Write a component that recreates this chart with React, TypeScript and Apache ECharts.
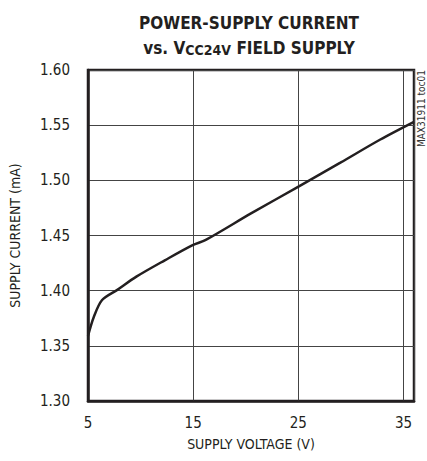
import React, { useEffect, useRef } from "react";
import * as echarts from "echarts";

const voltage = [5, 5.56, 6.34, 7.75, 9.6, 12.3, 14.95, 16.2, 20.5, 25.1, 29.0, 32.8, 36];
const current = [1.359, 1.3764, 1.3915, 1.4005, 1.4127, 1.4275, 1.4413, 1.446, 1.470, 1.4948, 1.516, 1.537, 1.553];
const yTicks = { min: 1.3, max: 1.6, step: 0.05 };
const xTicks = { min: 5, max: 36, step: 10 };

const FONT = "'DejaVu Sans Condensed', 'Liberation Sans Narrow', Arial, sans-serif";
const INK = "#231f20";

export default function App() {
  const ref = useRef<HTMLDivElement>(null);
  useEffect(() => {
    document.body.style.margin = "0";
    const chart = echarts.init(ref.current!, null, { renderer: "svg" });
    chart.setOption({
      animation: false,
      backgroundColor: "#fff",
      title: {
        text: "{a|POWER-SUPPLY CURRENT}\n{a|vs. V}{b|CC24V}{a| FIELD SUPPLY}",
        left: 244,
        top: 5,
        textAlign: "center",
        textStyle: {
          rich: {
            a: { fontFamily: FONT, fontWeight: "bold", fontSize: 17, color: INK, lineHeight: 25 },
            b: { fontFamily: FONT, fontWeight: "bold", fontSize: 14, color: INK, lineHeight: 25, padding: [4, 0, 0, 0] },
          },
        },
      },
      grid: { left: 84, right: 13, top: 70, bottom: 60, show: true, borderColor: INK, borderWidth: 2.5 },
      xAxis: {
        type: "value",
        min: xTicks.min,
        max: xTicks.max,
        interval: xTicks.step,
        name: "SUPPLY VOLTAGE (V)",
        nameLocation: "middle",
        nameGap: 36,
        nameTextStyle: { fontFamily: FONT, fontSize: 14, color: INK },
        axisLine: { show: true, lineStyle: { color: INK, width: 2.5 } },
        axisTick: { show: false },
        axisLabel: {
          fontFamily: FONT,
          fontSize: 15,
          color: INK,
          margin: 14,
          showMaxLabel: false,
          formatter: (v: number) => (v === 36 ? "" : String(v)),
        },
        splitLine: { show: true, lineStyle: { color: "#444", width: 1 } },
      },
      yAxis: {
        type: "value",
        min: yTicks.min,
        max: yTicks.max,
        interval: yTicks.step,
        name: "SUPPLY CURRENT (mA)",
        nameLocation: "middle",
        nameGap: 66,
        nameTextStyle: { fontFamily: FONT, fontSize: 14, color: INK },
        axisLine: { show: true, lineStyle: { color: INK, width: 2.5 } },
        axisTick: { show: false },
        axisLabel: {
          fontFamily: FONT,
          fontSize: 15,
          color: INK,
          margin: 18,
          formatter: (v: number) => v.toFixed(2),
        },
        splitLine: { show: true, lineStyle: { color: "#444", width: 1 } },
      },
      graphic: [
        {
          type: "text",
          x: 421,
          y: 70,
          rotation: Math.PI / 2,
          style: {
            text: "MAX31911 toc01",
            fontFamily: FONT,
            fontSize: 10,
            fill: "#333",
            textAlign: "right",
            textVerticalAlign: "middle",
          },
        },
      ],
      series: [
        {
          type: "line",
          data: voltage.map((v, i) => [v, current[i]]),
          showSymbol: false,
          smooth: 0.3,
          lineStyle: { color: INK, width: 2.5 },
          clip: true,
        },
      ],
    });
    return () => chart.dispose();
  }, []);
  return <div ref={ref} style={{ width: 427, height: 461 }} />;
}
